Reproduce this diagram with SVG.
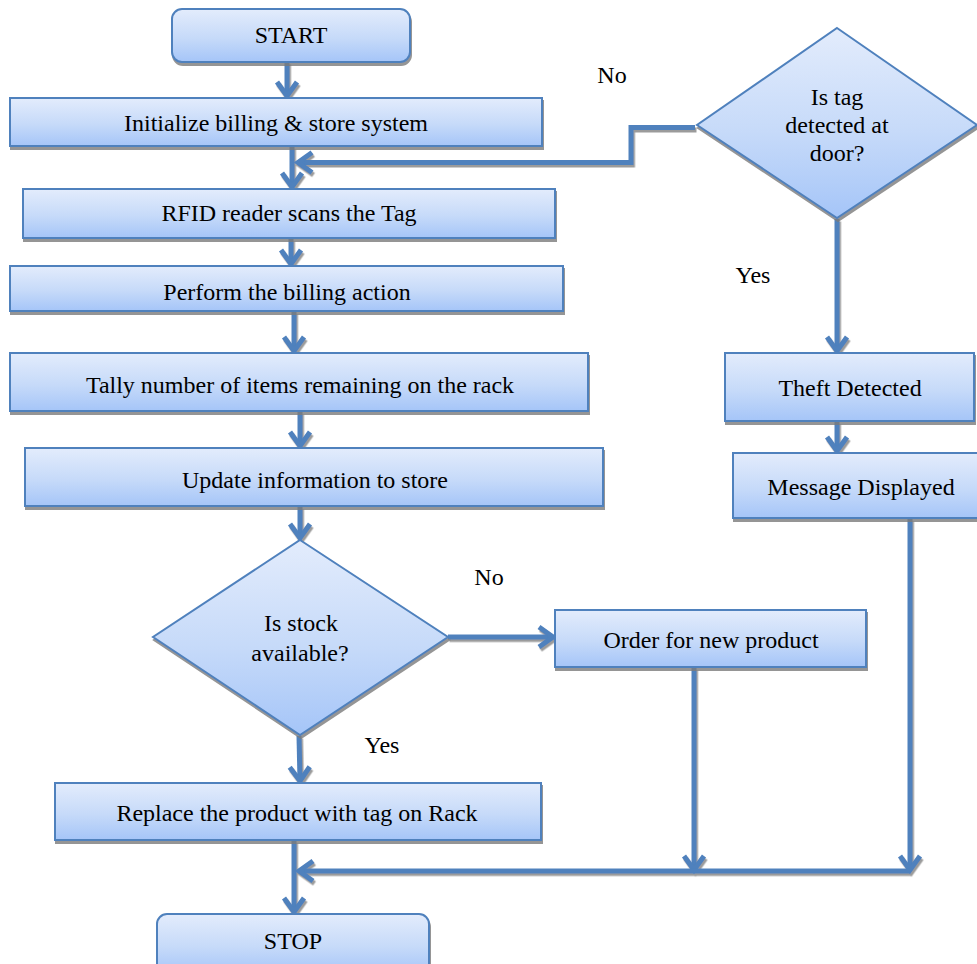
<svg xmlns="http://www.w3.org/2000/svg" width="977" height="964" viewBox="0 0 977 964">
  <defs>
    <linearGradient id="fillGrad" x1="0" y1="0" x2="0" y2="1">
      <stop offset="0" stop-color="#e3ecfc"/>
      <stop offset="0.55" stop-color="#c6daf9"/>
      <stop offset="1" stop-color="#a5c5f8"/>
    </linearGradient>
    <filter id="shadow" x="-5%" y="-5%" width="112%" height="120%">
      <feDropShadow dx="1" dy="3" stdDeviation="0.7" flood-color="#7a7a7a" flood-opacity="0.8"/>
    </filter>
    <filter id="lineShadow" x="-5%" y="-5%" width="112%" height="112%">
      <feDropShadow dx="1.5" dy="2.5" stdDeviation="0.6" flood-color="#7a7a7a" flood-opacity="0.75"/>
    </filter>
    <marker id="arrow" markerUnits="userSpaceOnUse" markerWidth="30" markerHeight="30" viewBox="-20 -15 30 30" refX="0" refY="0" orient="auto">
      <path d="M -14 -10 L 0 0 L -14 10" fill="none" stroke="#4f81bd" stroke-width="5" stroke-linejoin="miter" stroke-linecap="butt"/>
    </marker>
  </defs>
  <style>
    .box { fill: url(#fillGrad); stroke: #4f81bd; stroke-width: 2; filter: url(#shadow); }
    .lbl { font-family: "Liberation Serif", "Times New Roman", serif; font-size: 24px; fill: #000; text-anchor: middle; }
    .conn { fill: none; stroke: #4f81bd; stroke-width: 5; }
    .arr { marker-end: url(#arrow); }
  </style>

  <g id="connectors" filter="url(#lineShadow)">
    <line class="conn arr" x1="287" y1="62" x2="287" y2="96"/>
    <line class="conn arr" x1="292" y1="147" x2="292" y2="187"/>
    <polyline class="conn arr" points="695,127.5 631,127.5 631,162.5 298,162.5"/>
    <line class="conn arr" x1="291" y1="239" x2="291" y2="264"/>
    <line class="conn arr" x1="294" y1="312" x2="294" y2="351"/>
    <line class="conn arr" x1="300" y1="412" x2="300" y2="446"/>
    <line class="conn arr" x1="300" y1="507" x2="300" y2="538"/>
    <line class="conn arr" x1="448" y1="637" x2="553" y2="637"/>
    <line class="conn arr" x1="299" y1="736" x2="300" y2="781"/>
    <line class="conn arr" x1="294" y1="841" x2="294" y2="912"/>
    <line class="conn arr" x1="694" y1="668" x2="694" y2="870"/>
    <line class="conn arr" x1="910" y1="519" x2="910" y2="870"/>
    <line class="conn arr" x1="910" y1="871" x2="299" y2="871"/>
    <line class="conn arr" x1="837" y1="219" x2="837" y2="351"/>
    <line class="conn arr" x1="837" y1="422" x2="837" y2="451"/>
  </g>

  <g id="start">
    <rect class="box" x="172" y="9" width="238" height="53" rx="10" ry="10"/>
    <text class="lbl" x="291" y="43">START</text>
  </g>
  <g id="init">
    <rect class="box" x="10" y="98" width="532" height="48"/>
    <text class="lbl" x="276" y="131">Initialize billing &amp; store system</text>
  </g>
  <g id="rfid">
    <rect class="box" x="23" y="189" width="532" height="49"/>
    <text class="lbl" x="289" y="221">RFID reader scans the Tag</text>
  </g>
  <g id="perform">
    <rect class="box" x="10" y="266" width="553" height="45"/>
    <text class="lbl" x="287" y="300">Perform the billing action</text>
  </g>
  <g id="tally">
    <rect class="box" x="10" y="353" width="578" height="58"/>
    <text class="lbl" x="300" y="393">Tally number of items remaining on the rack</text>
  </g>
  <g id="update">
    <rect class="box" x="25" y="448" width="578" height="58"/>
    <text class="lbl" x="315" y="488">Update information to store</text>
  </g>
  <g id="stock-decision">
    <polygon class="box" points="300,540 448,637 300,735 153,637"/>
    <text class="lbl" x="301" y="631">Is stock</text>
    <text class="lbl" x="300" y="661">available?</text>
  </g>
  <g id="order">
    <rect class="box" x="555" y="610" width="311" height="57"/>
    <text class="lbl" x="711" y="648">Order for new product</text>
  </g>
  <g id="replace">
    <rect class="box" x="55" y="783" width="486" height="57"/>
    <text class="lbl" x="297" y="821">Replace the product with tag on Rack</text>
  </g>
  <g id="stop">
    <rect class="box" x="157" y="914" width="272" height="60" rx="10" ry="10"/>
    <text class="lbl" x="293" y="949">STOP</text>
  </g>
  <g id="door-decision">
    <polygon class="box" points="837,28 977,125 837,218 697,125"/>
    <text class="lbl" x="837" y="105">Is tag</text>
    <text class="lbl" x="837" y="133">detected at</text>
    <text class="lbl" x="837" y="161">door?</text>
  </g>
  <g id="theft">
    <rect class="box" x="725" y="353" width="249" height="68"/>
    <text class="lbl" x="850" y="396">Theft Detected</text>
  </g>
  <g id="message">
    <rect class="box" x="733" y="453" width="250" height="65"/>
    <text class="lbl" x="861" y="495">Message Displayed</text>
  </g>

  <g id="labels">
    <text class="lbl" x="612" y="83">No</text>
    <text class="lbl" x="753" y="283">Yes</text>
    <text class="lbl" x="489" y="585">No</text>
    <text class="lbl" x="382" y="753">Yes</text>
  </g>
</svg>
